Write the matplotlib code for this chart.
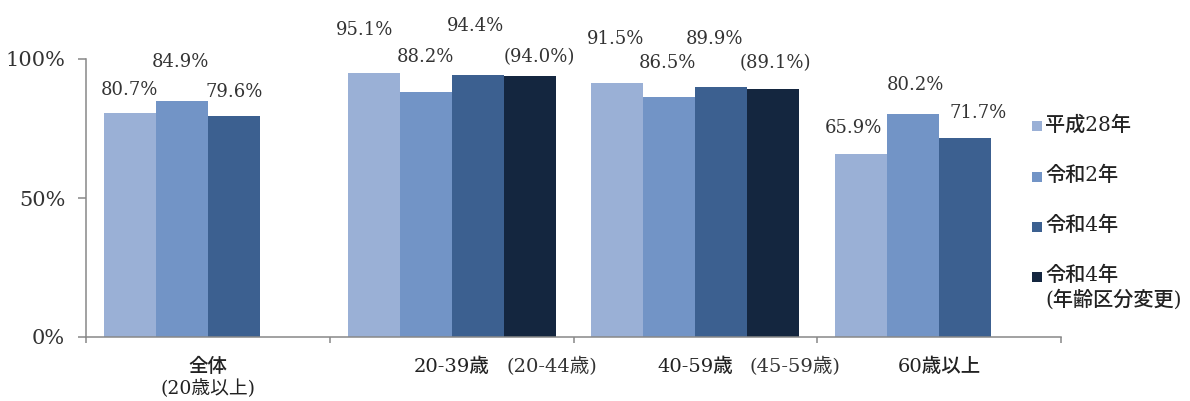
import numpy as np
import matplotlib
matplotlib.use("Agg")
import matplotlib.pyplot as plt
from matplotlib import transforms
from matplotlib.patches import Rectangle

# categories and series (values in %)
categories = ["全体", "20-39歳", "40-59歳", "60歳以上"]
sub_labels = ["(20歳以上)", "(20-44歳)", "(45-59歳)", ""]
series_names = ["平成28年", "令和2年", "令和4年", "令和4年\n(年齢区分変更)"]
h28 = [80.7, 95.1, 91.5, 65.9]
r2 = [84.9, 88.2, 86.5, 80.2]
r4 = [79.6, 94.4, 89.9, 71.7]
r4_new = [np.nan, 94.0, 89.1, np.nan]
series = [h28, r2, r4, r4_new]
colors = ["#9AB0D6", "#7294C6", "#3C6090", "#14263F"]

# hand placed label offsets (pixels) from each bar top, per series / category
label_dx = [[-1, -9, -2, -8], [-1, 0, -2, 2], [0, -2, -7, 13], [0, 10, 2, 0]]
label_dy = [[23, 43, 44, 26], [39, 35, 34, 29], [24, 49, 48, 25], [0, 19, 26, 0]]

serif_jp = ["DejaVu Serif", "Noto Sans CJK JP"]
W, H = 1190, 401
fig = plt.figure(figsize=(W / 100, H / 100), dpi=100)
ax = fig.add_axes([86 / W, 64 / H, 975 / W, 278 / H])

bw = 52 / 244
x = np.arange(len(categories)) + 0.5
for k, vals in enumerate(series):
    xs = x + (k - 1.5) * bw
    ax.bar(xs, vals, width=bw, color=colors[k], linewidth=0)
    for i, v in enumerate(vals):
        if np.isnan(v):
            continue
        txt = f"{v:.1f}%" if k < 3 else f"({v:.1f}%)"
        ax.annotate(txt, xy=(xs[i], v), xytext=(label_dx[k][i], label_dy[k][i]),
                    textcoords="offset pixels", ha="center", va="center",
                    fontsize=13, family="DejaVu Serif", color="#333333",
                    annotation_clip=False)

ax.set_xlim(0, len(categories))
ax.set_ylim(0, 100)
ax.set_yticks([0, 50, 100])
ax.set_yticklabels(["0%", "50%", "100%"], family="DejaVu Serif", fontsize=15, color="#333333")
ax.set_xticks(np.arange(len(categories) + 1))
ax.set_xticklabels([])
ax.tick_params(axis="y", length=6, width=1.1, color="#888888", pad=9)
ax.tick_params(axis="x", length=4.5, width=1.1, color="#888888")
for s in ["top", "right"]:
    ax.spines[s].set_visible(False)
for s in ["left", "bottom"]:
    ax.spines[s].set_color("#888888")
    ax.spines[s].set_linewidth(1.1)

# category labels under the axis
tr = transforms.blended_transform_factory(ax.transData, fig.transFigure)
for i, name in enumerate(categories):
    ax.text(x[i], 1 - 367 / H, name, transform=tr, ha="center", va="center",
            fontsize=14, family=serif_jp, weight="medium", color="#222222")
ax.text(x[0], 1 - 389 / H, sub_labels[0], transform=tr, ha="center", va="center",
        fontsize=13.5, family=serif_jp, color="#222222")
for i in [1, 2]:
    ax.text(x[i] + 0.41, 1 - 367 / H, sub_labels[i], transform=tr, ha="center", va="center",
            fontsize=14, family=serif_jp, color="#333333")

# legend drawn by hand
leg_y = [126, 177, 227, 277]
for k, name in enumerate(series_names):
    yc = leg_y[k]
    fig.add_artist(Rectangle((1032 / W, 1 - (yc + 5) / H), 10 / W, 10 / H,
                             transform=fig.transFigure, color=colors[k], linewidth=0))
    fig.text(1045 / W, 1 - (yc - 11) / H, name, ha="left", va="top", fontsize=14.5,
             family=serif_jp, weight="medium", color="#222222", linespacing=1.25)

fig.savefig("out.png", dpi=100)
